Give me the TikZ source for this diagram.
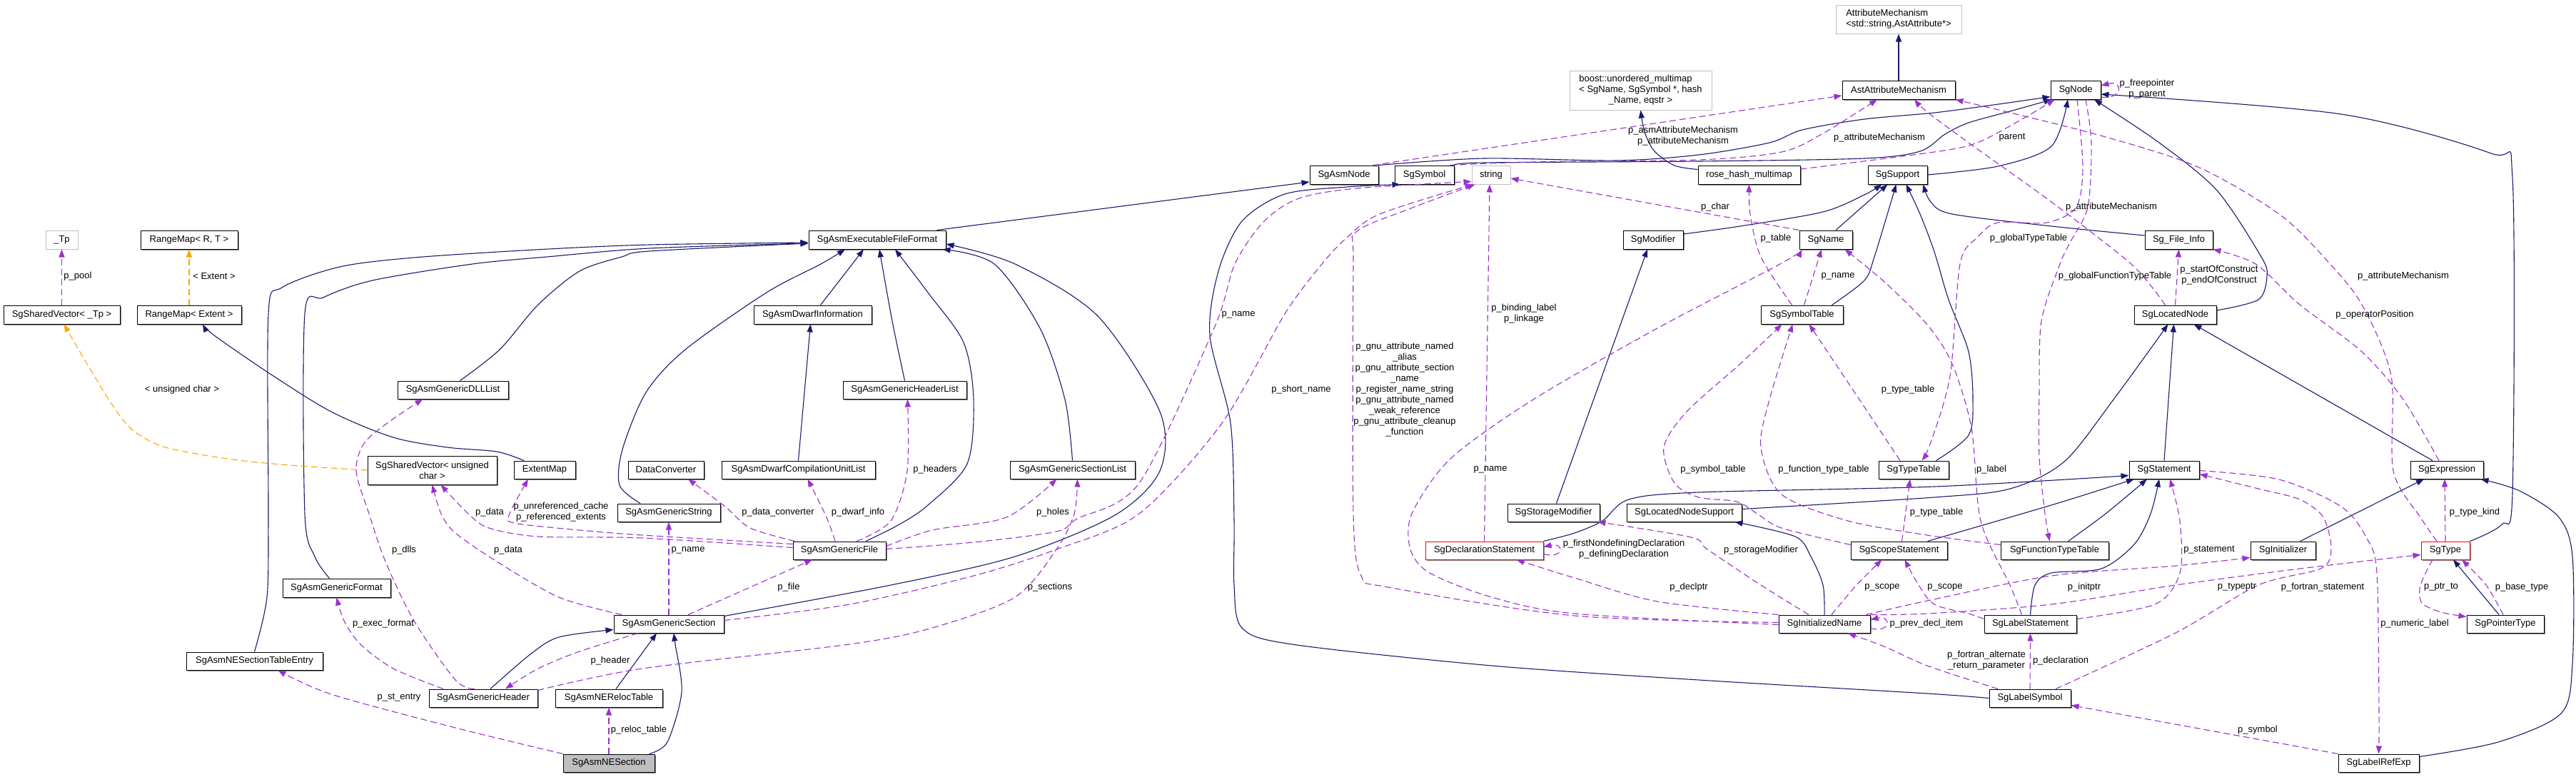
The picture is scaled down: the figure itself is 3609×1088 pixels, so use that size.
\documentclass[tikz,border=0pt]{standalone}
\usepackage{fontspec}
\setmainfont{Liberation Sans}
\usetikzlibrary{arrows.meta,shadows}
\definecolor{navy}{HTML}{191970}
\definecolor{purp}{HTML}{9A32CD}
\definecolor{orng}{HTML}{FFA500}
\definecolor{extgray}{HTML}{BFBFBF}
\definecolor{rootgray}{HTML}{BFBFBF}
\newcommand\dgbox[7]{%
  \pgfmathsetmacro\dgW{#4-#2}%
  \pgfmathsetmacro\dgH{#5-#3}%
  \pgfmathsetmacro\dgX{(#2+#4)/2}%
  \pgfmathsetmacro\dgY{(#3+#5)/2}%
  \node[#6, minimum width=\dgW pt, minimum height=\dgH pt] (#1) at (\dgX,\dgY) {#7};}
\tikzset{
 txtbase/.style={font=\fontsize{13}{15}\selectfont, inner sep=0pt, align=center},
 cls/.style={txtbase, draw=black, line width=1pt, fill=white, drop shadow={shadow xshift=1.5pt,shadow yshift=-1.5pt,fill=black!60,opacity=0.8}},
 extcls/.style={txtbase, draw=extgray, line width=1pt, fill=white},
 redcls/.style={cls, draw=red},
 rootcls/.style={cls, fill=rootgray},
 lbl/.style={txtbase},
 edgeinh/.style={draw=navy, line width=1.1pt, -{Triangle[length=11pt,width=8pt]}},
 edgeuse/.style={draw=purp, line width=1.1pt, dash pattern=on 9pt off 5pt, -{Triangle[length=11pt,width=8pt]}},
 edgetpl/.style={draw=orng, line width=1.1pt, dash pattern=on 9pt off 5pt, -{Triangle[length=11pt,width=8pt]}},
}
\begin{document}
\begin{tikzpicture}[x=1pt,y=-1pt]
\fill[white] (0,0) rectangle (3609,1088);
\useasboundingbox (0,0) rectangle (3609,1088);
% ---------- nodes ----------
\dgbox{AM}{2572}{7}{2748}{47}{extcls,align=left}{AttributeMechanism\\<std::string,AstAttribute*>}
\dgbox{BOOST}{2199}{99}{2398}{154}{extcls}{\begin{tabular}{@{}l@{}}boost::unordered\_multimap\\< SgName, SgSymbol *, hash\\\multicolumn{1}{@{}c@{}}{\_Name, eqstr >}\end{tabular}}
\dgbox{AAM}{2581}{113}{2739}{139}{cls}{AstAttributeMechanism}
\dgbox{NODE}{2873}{113}{2943}{139}{cls}{SgNode}
\dgbox{ASMN}{1835}{232}{1931}{258}{cls}{SgAsmNode}
\dgbox{SYM}{1954}{232}{2037}{258}{cls}{SgSymbol}
\dgbox{STR}{2062}{232}{2116}{258}{extcls}{string}
\dgbox{RHM}{2379}{232}{2522}{258}{cls}{rose\_hash\_multimap}
\dgbox{SUP}{2617}{232}{2700}{258}{cls}{SgSupport}
\dgbox{TP}{64}{323}{109}{349}{extcls}{\_Tp}
\dgbox{RMRT}{197}{323}{333}{349}{cls}{RangeMap< R, T >}
\dgbox{EXE}{1133}{323}{1325}{349}{cls}{SgAsmExecutableFileFormat}
\dgbox{MOD}{2274}{323}{2358}{349}{cls}{SgModifier}
\dgbox{NAME}{2521}{323}{2595}{349}{cls}{SgName}
\dgbox{SFI}{3005}{323}{3100}{349}{cls}{Sg\_File\_Info}
\dgbox{SVTP}{5}{428}{168}{454}{cls}{SgSharedVector< \_Tp >}
\dgbox{RME}{192}{428}{338}{454}{cls}{RangeMap< Extent >}
\dgbox{DWI}{1056}{428}{1221}{454}{cls}{SgAsmDwarfInformation}
\dgbox{SST}{2467}{428}{2582}{454}{cls}{SgSymbolTable}
\dgbox{SLN}{2990}{428}{3105}{454}{cls}{SgLocatedNode}
\dgbox{DLL}{557}{534}{712}{559}{cls}{SgAsmGenericDLLList}
\dgbox{HDL}{1181}{534}{1354}{559}{cls}{SgAsmGenericHeaderList}
\dgbox{SVUC}{515}{639}{696}{679}{cls}{SgSharedVector< unsigned\\char >}
\dgbox{EXT}{720}{646}{806}{671}{cls}{ExtentMap}
\dgbox{DCV}{880}{646}{986}{671}{cls}{DataConverter}
\dgbox{DCU}{1011}{646}{1226}{671}{cls}{SgAsmDwarfCompilationUnitList}
\dgbox{SCL}{1415}{646}{1590}{671}{cls}{SgAsmGenericSectionList}
\dgbox{STT}{2632}{646}{2730}{671}{cls}{SgTypeTable}
\dgbox{STMT}{2983}{646}{3081}{671}{cls}{SgStatement}
\dgbox{EXPR}{3377}{646}{3479}{671}{cls}{SgExpression}
\dgbox{GSTR}{865}{706}{1009}{731}{cls}{SgAsmGenericString}
\dgbox{SSM}{2112}{706}{2241}{731}{cls}{SgStorageModifier}
\dgbox{SLNS}{2279}{706}{2440}{731}{cls}{SgLocatedNodeSupport}
\dgbox{GFILE}{1111}{759}{1241}{784}{cls}{SgAsmGenericFile}
\dgbox{SDS}{1997}{759}{2162}{784}{redcls}{SgDeclarationStatement}
\dgbox{SSS}{2593}{759}{2728}{784}{cls}{SgScopeStatement}
\dgbox{SFTT}{2803}{759}{2954}{784}{cls}{SgFunctionTypeTable}
\dgbox{SINIT}{3153}{759}{3244}{784}{cls}{SgInitializer}
\dgbox{TYPE}{3392}{759}{3460}{784}{redcls}{SgType}
\dgbox{GFMT}{396}{811}{547}{837}{cls}{SgAsmGenericFormat}
\dgbox{GSEC}{860}{862}{1014}{887}{cls}{SgAsmGenericSection}
\dgbox{SIN}{2492}{862}{2620}{887}{cls}{SgInitializedName}
\dgbox{SLS}{2780}{862}{2909}{887}{cls}{SgLabelStatement}
\dgbox{SPT}{3456}{862}{3564}{887}{cls}{SgPointerType}
\dgbox{NESTE}{261}{914}{452}{939}{cls}{SgAsmNESectionTableEntry}
\dgbox{GHDR}{601}{966}{753}{991}{cls}{SgAsmGenericHeader}
\dgbox{NRT}{778}{966}{928}{991}{cls}{SgAsmNERelocTable}
\dgbox{SLSYM}{2787}{966}{2901}{991}{cls}{SgLabelSymbol}
\dgbox{NES}{789}{1057}{917}{1082}{rootcls}{SgAsmNESection}
\dgbox{SLRE}{3276}{1057}{3389}{1082}{cls}{SgLabelRefExp}
% ---------- inheritance edges ----------
\draw[edgeinh] (AAM.north) -- (AM.south);
\draw[edgeinh] plot[smooth] coordinates {([yshift=-6pt]RHM.north west) (2346,232) (2318,212) (2304,185) (BOOST.south)};
\draw[edgeinh] plot[smooth] coordinates {(ASMN.north east) (2079,222) (2264,225) (2380,217) (2479,200) (2525,182) (2612,167) (2710,158) (2800,146) ([yshift=4pt]NODE.south west)};
\draw[edgeinh] plot[smooth] coordinates {(SYM.north east) (2079,228) (2380,226) (2612,222) (2690,212) (2725,188) (2758,172) (2816,156) ([xshift=2pt]NODE.south west)};
\draw[edgeinh] plot[smooth] coordinates {(SUP.east) (2799,233) (2874,205) ([xshift=-11pt]NODE.south)};
\draw[edgeinh] plot[smooth] coordinates {([yshift=6pt]SLN.east) (3164,420) (3176,387) (3168,360) (3106,267) (3025,200) ([xshift=26pt]NODE.south)};
\draw[edgeinh] plot[smooth] coordinates {(TYPE.north east) (3505,735) (3520,690) (3520,250) (3490,215) (3280,160) ([yshift=-6pt]NODE.east)};
\draw[edgeinh] ([xshift=-13pt]EXE.north east) -- ([yshift=-10pt]ASMN.west);
\draw[edgeinh] plot[smooth] coordinates {(SLSYM.west) (2700,972) (2380,953) (2090,933) (1810,903) (1740,880) (1729,820) (1729,730) (1724,593) (1695,470) (1707,380) (1740,310) (1800,272) (1887,262) ([xshift=8pt]SYM.south west)};
\draw[edgeinh] plot[smooth] coordinates {(NESTE.north) (374,837) (376,720) (376,440) (395,403) (476,374) (580,361) (750,350) (910,343) ([yshift=-4pt]EXE.west)};
\draw[edgeinh] plot[smooth] coordinates {([xshift=-10pt]GFMT.north) (441,780) (427,720) (427,440) (453,417) (522,393) (662,370) (766,360) (910,348) ([yshift=-5pt]EXE.west)};
\draw[edgeinh] plot[smooth] coordinates {([xshift=10pt]DLL.north) (700,490) (754,427) (812,380) (871,360) (910,352) ([yshift=-5pt]EXE.west)};
\draw[edgeinh] plot[smooth] coordinates {([xshift=-40pt]GSTR.north) (868,680) (872,630) (905,550) (960,490) (1074,410) (1150,370) ([xshift=-45pt]EXE.south)};
\draw[edgeinh] ([xshift=11pt]DWI.north) -- ([xshift=-19pt]EXE.south);
\draw[edgeinh] plot[smooth] coordinates {(HDL.north) (1250,450) ([xshift=3pt]EXE.south)};
\draw[edgeinh] plot[smooth] coordinates {([xshift=37pt]GFILE.north) (1260,735) (1300,708) (1355,650) (1364,560) (1350,480) (1300,410) ([xshift=25pt]EXE.south)};
\draw[edgeinh] plot[smooth] coordinates {(SCL.north) (1492,560) (1457,460) (1393,370) ([xshift=-5pt]EXE.south east)};
\draw[edgeinh] plot[smooth] coordinates {([yshift=11pt]GSEC.east) (1248,820) (1422,780) (1562,722) (1625,660) (1625,577) (1538,443) (1422,370) ([yshift=-6pt]EXE.east)};
\draw[edgeinh] (DCU.north) -- ([xshift=-3pt]DWI.south);
\draw[edgeinh] plot[smooth] coordinates {([xshift=-29pt]EXT.north) (696,633) (627,627) (551,613) (464,577) (377,523) (300,470) ([xshift=19pt]RME.south)};
\draw[edgeinh] plot[smooth] coordinates {([xshift=10pt]GHDR.north) (743,917) (783,893) ([yshift=-8pt]GSEC.west)};
\draw[edgeinh] ([xshift=10pt]NRT.north) -- ([xshift=-17pt]GSEC.south);
\draw[edgeinh] plot[smooth] coordinates {([xshift=-8pt]NES.north east) (935,1040) (955,970) (946,903) ([xshift=7pt]GSEC.south)};
\draw[edgeinh] ([xshift=4pt]SSM.north) -- ([xshift=-8pt]MOD.south);
\draw[edgeinh] plot[smooth] coordinates {([yshift=8pt]MOD.east) (2438,317) (2554,297) (2612,273) ([xshift=-22pt]SUP.south)};
\draw[edgeinh] ([xshift=14pt]NAME.north) -- ([xshift=-14pt]SUP.south);
\draw[edgeinh] plot[smooth] coordinates {([xshift=-16pt]SST.north east) (2612,393) (2626,360) ([xshift=-2pt]SUP.south)};
\draw[edgeinh] plot[smooth] coordinates {([xshift=-18pt]STT.north east) (2758,610) (2764,560) (2758,493) (2730,420) (2710,353) (2690,300) ([xshift=12pt]SUP.south)};
\draw[edgeinh] plot[smooth] coordinates {([yshift=6pt]SFI.west) (2874,317) (2735,300) (2705,283) ([xshift=-6pt]SUP.south east)};
\draw[edgeinh] (STMT.north) -- ([xshift=-2pt]SLN.south);
\draw[edgeinh] ([xshift=-20pt]EXPR.north) -- ([xshift=26pt]SLN.south);
\draw[edgeinh] plot[smooth] coordinates {([yshift=5pt]SLNS.east) (2710,697) (2816,685) (2892,647) (2961,560) ([xshift=-10pt]SLN.south)};
\draw[edgeinh] plot[smooth] coordinates {(SDS.north east) (2206,747) (2245,730) (2282,700) (2380,690) (2710,682) ([yshift=-8pt]STMT.west)};
\draw[edgeinh] plot[smooth] coordinates {([xshift=-28pt]SSS.north east) (2833,720) (2900,700) ([xshift=-42pt]STMT.south)};
\draw[edgeinh] plot[smooth] coordinates {([xshift=19pt]SFTT.north) (2950,720) ([xshift=-24pt]STMT.south)};
\draw[edgeinh] plot[smooth] coordinates {(SLS.north) (2851,820) (2874,803) (2944,797) (2990,763) (3013,720) ([xshift=-7pt]STMT.south)};
\draw[edgeinh] plot[smooth] coordinates {(SIN.north) (2554,820) (2537,780) (2515,752) ([xshift=-10pt]SLNS.south east)};
\draw[edgeinh] ([xshift=-22pt]SINIT.north east) -- ([xshift=-32pt]EXPR.south);
\draw[edgeinh] plot[smooth] coordinates {([yshift=9pt]SLRE.east) (3500,1040) (3588,1000) (3604,930) (3604,780) (3585,725) (3530,688) ([xshift=-4pt]EXPR.south east)};
\draw[edgeinh] ([xshift=-9pt]SPT.north) -- ([xshift=11pt]TYPE.south);
% ---------- usage edges ----------
\draw[edgeuse] (SVTP.north) -- (TP.south);
\draw[edgetpl] (RME.north) -- (RMRT.south);
\draw[edgetpl] plot[smooth] coordinates {(SVUC.west) (406,652) (319,643) (232,627) (186,603) (157,567) (122,510) ([xshift=3pt]SVTP.south)};
\draw[edgeuse] plot[smooth] coordinates {([xshift=-12pt]GHDR.north) (638,953) (580,870) (540,787) (517,720) (499,660) (511,620) (551,587) ([xshift=-42pt]DLL.south)};
\draw[edgeuse] plot[smooth] coordinates {([xshift=-66pt]GSEC.north) (783,837) (696,787) (638,747) (618,720) (SVUC.south)};
\draw[edgeuse] plot[smooth] coordinates {([yshift=4pt]GFILE.west) (900,754) (754,752) (685,740) (656,720) ([xshift=12pt]SVUC.south)};
\draw[edgeuse] plot[smooth] coordinates {([yshift=9pt]GFILE.west) (900,750) (812,743) (720,733) (714,720) ([xshift=-23pt]EXT.south)};
\draw[edgeuse] plot[smooth] coordinates {([xshift=3pt]GFILE.north west) (1051,740) (1016,710) ([xshift=31pt]DCV.south)};
\draw[edgeuse] plot[smooth] coordinates {([xshift=-6pt]GFILE.north) (1158,725) ([xshift=13pt]DCU.south)};
\draw[edgeuse] plot[smooth] coordinates {([xshift=24pt]GFILE.north) (1248,730) (1271,660) ([xshift=4pt]HDL.south)};
\draw[edgeuse] plot[smooth] coordinates {([yshift=6pt]GFILE.east) (1306,743) (1410,725) ([xshift=-22pt]SCL.south)};
\draw[edgeuse] plot[smooth] coordinates {([yshift=11pt]GHDR.east) (900,937) (1190,903) (1306,880) (1422,837) (1480,770) (1505,720) ([xshift=7pt]SCL.south)};
\draw[edgeuse] plot[smooth] coordinates {([yshift=2pt]GFILE.east) (1364,760) (1480,745) (1509,727) (1596,677) (1701,460) (1730,370) (1771,310) (1820,278) (1900,264) ([yshift=4pt]STR.south west)};
\draw[edgeuse] plot[smooth] coordinates {([yshift=5pt]GSEC.east) (1190,847) (1364,807) (1480,770) (1596,720) (1712,593) (1800,440) (1852,370) (1887,333) (1933,300) ([xshift=2pt]STR.south west)};
\draw[edgeuse] plot[smooth] coordinates {([yshift=2pt]SIN.west) (2206,863) (1945,823) (1907,807) (1896,720) (1896,370) (1900,325) (1974,293) ([xshift=5pt]STR.south west)};
\draw[edgeuse] (SDS.north) -- ([xshift=-2pt]STR.south);
\draw[edgeuse] (NAME.north west) -- ([yshift=-5pt]STR.east);
\draw[edgeuse] plot[smooth] coordinates {([yshift=-1pt]SIN.west) (2206,860) (2090,837) (2003,803) (1976,770) (1978,720) (2032,643) (2148,560) (2322,460) (2494,370) ([xshift=4pt]NAME.south west)};
\draw[edgeuse] ([xshift=3pt]SST.north) -- ([xshift=-6pt]NAME.south);
\draw[edgeuse] plot[smooth] coordinates {([xshift=-12pt]SLS.north) (2816,820) (2775,730) (2762,600) (2735,510) (2700,455) (2640,395) ([xshift=-11pt]NAME.south east)};
\draw[edgeuse] plot[smooth] coordinates {([xshift=-14pt]SST.north) (2467,360) (2452,300) (RHM.south)};
\draw[edgeuse] plot[smooth] coordinates {([xshift=-19pt]STT.north) (2583,527) ([xshift=10pt]SST.south)};
\draw[edgeuse] plot[smooth] coordinates {([yshift=8pt]SSS.west) (2496,740) (2462,720) (2433,703) (2380,697) (2346,677) (2331,627) (2363,577) (2438,510) ([xshift=-28pt]SST.south)};
\draw[edgeuse] plot[smooth] coordinates {([yshift=8pt]SFTT.west) (2700,750) (2589,730) (2496,693) (2467,627) (2479,560) ([xshift=-13pt]SST.south)};
\draw[edgeuse] plot[smooth] coordinates {([xshift=2pt]NODE.south) (2918,233) (2909,290) (2868,312) (2799,312) (2770,333) (2746,370) (2732,527) (2705,620) ([xshift=-38pt]STT.north east)};
\draw[edgeuse] plot[smooth] coordinates {([xshift=14pt]NODE.south) (2930,200) (2925,290) (2900,340) (2886,370) (2860,450) (2857,550) (2857,640) (2865,720) ([xshift=-7pt]SFTT.north)};
\draw[edgeuse] plot[smooth] coordinates {([yshift=8pt]RHM.east) (2710,213) (2770,200) (2833,167) ([xshift=6pt]NODE.south west)};
\draw[edgeuse] ([yshift=-10pt]NODE.east) .. controls (2975,140) and (2975,112) .. ([yshift=6pt]NODE.east);
\draw[edgeuse] ([xshift=-8pt]ASMN.north east) -- ([yshift=-8pt]AAM.west);
\draw[edgeuse] plot[smooth] coordinates {([xshift=-6pt]SYM.north east) (2148,227) (2380,224) (2496,213) (2554,187) ([xshift=-30pt]AAM.south)};
\draw[edgeuse] plot[smooth] coordinates {([xshift=-14pt]SLN.north) (3013,400) (2980,365) (2874,283) (2758,200) (2700,157) ([xshift=22pt]AAM.south)};
\draw[edgeuse] plot[smooth] coordinates {([xshift=-12pt]TYPE.north) (3391,725) (3353,660) (3350,527) (3309,427) (3260,365) (3193,300) (3077,233) (2932,187) (AAM.south east)};
\draw[edgeuse] plot[smooth] coordinates {([xshift=-11pt]EXPR.north) (3367,560) (3309,493) (3222,427) (3160,370) (SFI.south east)};
\draw[edgeuse] (SLN.north) -- (SFI.south);
\draw[edgeuse] plot[smooth] coordinates {([yshift=7pt]SLS.east) (3019,847) (3054,803) (3054,730) ([xshift=8pt]STMT.south)};
\draw[edgeuse] plot[smooth] coordinates {([xshift=36pt]SLSYM.north) (3048,887) (3164,820) (3251,797) (3266,770) (3255,725) (3222,700) (3164,685) ([yshift=-6pt]STMT.east)};
\draw[edgeuse] plot[smooth] coordinates {([yshift=-1pt]STMT.east) (3193,672) (3280,710) (3315,753) (3330,803) (3333,1000) (SLRE.north)};
\draw[edgeuse] ([xshift=4pt]SSS.north) -- ([xshift=-5pt]STT.south);
\draw[edgeuse] plot[smooth] coordinates {([xshift=-22pt]SIN.north) (2467,820) (2392,770) (2369,753) ([xshift=-3pt]SSM.south east)};
\draw[edgeuse] plot[smooth] coordinates {(SIN.north west) (2322,843) (2206,810) ([xshift=45pt]SDS.south)};
\draw[edgeuse] ([yshift=-5pt]SDS.east) .. controls (2192,784) and (2192,760) .. ([yshift=5pt]SDS.east);
\draw[edgeuse] plot[smooth] coordinates {([xshift=10pt]SIN.north) (2601,820) ([xshift=-24pt]SSS.south)};
\draw[edgeuse] plot[smooth] coordinates {([yshift=7pt]SLS.west) (2758,860) (2710,847) (2688,820) ([xshift=8pt]SSS.south)};
\draw[edgeuse] ([yshift=-6pt]SIN.east) .. controls (2650,888) and (2650,862) .. ([yshift=6pt]SIN.east);
\draw[edgeuse] plot[smooth] coordinates {(SIN.north east) (2700,860) (2874,847) (3048,820) (3222,797) ([yshift=-6pt]TYPE.west)};
\draw[edgeuse] plot[smooth] coordinates {([xshift=-6pt]SIN.north east) (2700,842) (2874,807) (3048,793) ([yshift=-10pt]SINIT.west)};
\draw[edgeuse] (SLSYM.north) -- (SLS.south);
\draw[edgeuse] plot[smooth] coordinates {([xshift=-45pt]SLSYM.north) (2700,933) (2642,907) ([xshift=33pt]SIN.south)};
\draw[edgeuse] (SLRE.north west) -- ([yshift=-10pt]SLSYM.east);
\draw[edgeuse] (TYPE.north) -- ([xshift=-3pt]EXPR.south);
\draw[edgeuse] plot[smooth] coordinates {([xshift=-18pt]TYPE.south) (3391,820) (3393,845) (3420,858) ([yshift=-3pt]SPT.north west)};
\draw[edgeuse] plot[smooth] coordinates {([xshift=-3pt]SPT.north) (3483,820) ([xshift=23pt]TYPE.south)};
\draw[edgeuse] ([xshift=27pt]GSEC.north) -- ([xshift=-38pt]GFILE.south);
\draw[edgeuse] (GSEC.north) -- (GSTR.south);
\draw[edgeuse] plot[smooth] coordinates {([xshift=-43pt]GSEC.south) (812,913) (754,937) ([xshift=31pt]GHDR.north)};
\draw[edgeuse] plot[smooth] coordinates {([xshift=-56pt]GHDR.north) (551,937) (505,903) (482,870) (GFMT.south)};
\draw[edgeuse] plot[smooth] coordinates {(NES.north west) (638,1020) (464,973) ([xshift=33pt]NESTE.south)};
\draw[edgeuse] (NES.north) -- (NRT.south);
% ---------- labels ----------
\node[lbl] (l1) at (109,387) {p\_pool};
\node[lbl] (l2) at (300,387) {< Extent >};
\node[lbl] (l3) at (255,546) {< unsigned char >};
\node[lbl] (l4) at (566,771) {p\_dlls};
\node[lbl] (l5) at (712,771) {p\_data};
\node[lbl] (l6) at (686,718) {p\_data};
\node[lbl] (l7) at (786,718) {p\_unreferenced\_cache\\p\_referenced\_extents};
\node[lbl] (l8) at (1090,718) {p\_data\_converter};
\node[lbl] (l9) at (1202,718) {p\_dwarf\_info};
\node[lbl] (l10) at (1310,658) {p\_headers};
\node[lbl] (l11) at (1475,718) {p\_holes};
\node[lbl] (l12) at (1735,441) {p\_name};
\node[lbl] (l13) at (1823,546) {p\_short\_name};
\node[lbl] (l14) at (964,771) {p\_name};
\node[lbl] (l15) at (1105,823) {p\_file};
\node[lbl] (l16) at (1471,823) {p\_sections};
\node[lbl] (l17) at (537,874) {p\_exec\_format};
\node[lbl] (l18) at (855,926) {p\_header};
\node[lbl] (l19) at (559,978) {p\_st\_entry};
\node[lbl] (l20) at (895,1023) {p\_reloc\_table};
\node[lbl] (l21) at (2358,191) {p\_asmAttributeMechanism\\p\_attributeMechanism};
\node[lbl] (l22) at (2633,193) {p\_attributeMechanism};
\node[lbl] (l23) at (3008,125) {p\_freepointer\\p\_parent};
\node[lbl] (l24) at (2819,193) {parent};
\node[lbl] (l25) at (2958,290) {p\_attributeMechanism};
\node[lbl] (l26) at (2842,334) {p\_globalTypeTable};
\node[lbl] (l27) at (2403,290) {p\_char};
\node[lbl] (l28) at (2488,334) {p\_table};
\node[lbl] (l29) at (2135,440) {p\_binding\_label\\p\_linkage};
\node[lbl] (l30) at (1968,546) {p\_gnu\_attribute\_named\\\_alias\\p\_gnu\_attribute\_section\\\_name\\p\_register\_name\_string\\p\_gnu\_attribute\_named\\\_weak\_reference\\p\_gnu\_attribute\_cleanup\\\_function};
\node[lbl] (l31) at (2088,658) {p\_name};
\node[lbl] (l32) at (2575,387) {p\_name};
\node[lbl] (l33) at (2673,546) {p\_type\_table};
\node[lbl] (l34) at (2400,658) {p\_symbol\_table};
\node[lbl] (l35) at (2555,658) {p\_function\_type\_table};
\node[lbl] (l36) at (2713,718) {p\_type\_table};
\node[lbl] (l37) at (2963,387) {p\_globalFunctionTypeTable};
\node[lbl] (l38) at (3109,386) {p\_startOfConstruct\\p\_endOfConstruct};
\node[lbl] (l39) at (3367,387) {p\_attributeMechanism};
\node[lbl] (l40) at (3327,441) {p\_operatorPosition};
\node[lbl] (l41) at (2790,658) {p\_label};
\node[lbl] (l42) at (3467,718) {p\_type\_kind};
\node[lbl] (l43) at (2275,770) {p\_firstNondefiningDeclaration\\p\_definingDeclaration};
\node[lbl] (l44) at (2467,771) {p\_storageModifier};
\node[lbl] (l45) at (2366,823) {p\_declptr};
\node[lbl] (l46) at (2637,823) {p\_scope};
\node[lbl] (l47) at (2725,823) {p\_scope};
\node[lbl] (l48) at (2699,874) {p\_prev\_decl\_item};
\node[lbl] (l49) at (3095,771) {p\_statement};
\node[lbl] (l50) at (2920,823) {p\_initptr};
\node[lbl] (l51) at (3134,823) {p\_typeptr};
\node[lbl] (l52) at (3254,823) {p\_fortran\_statement};
\node[lbl] (l53) at (3420,823) {p\_ptr\_to};
\node[lbl] (l54) at (3533,823) {p\_base\_type};
\node[lbl] (l55) at (3383,874) {p\_numeric\_label};
\node[lbl] (l56) at (2783,926) {p\_fortran\_alternate\\\_return\_parameter};
\node[lbl] (l57) at (2887,926) {p\_declaration};
\node[lbl] (l58) at (3163,1023) {p\_symbol};
\end{tikzpicture}
\end{document}
